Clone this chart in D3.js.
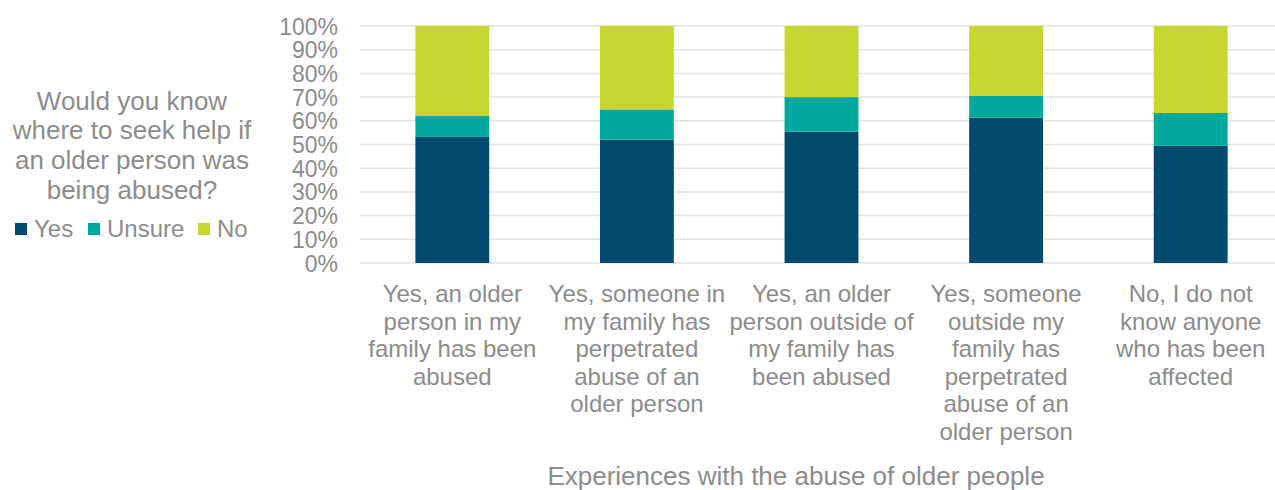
<!DOCTYPE html>
<html>
<head>
<meta charset="utf-8">
<script src="https://cdn.jsdelivr.net/npm/d3@7"></script>
<style>
    body { margin: 0; background: #fff; }
    text { font-family: "Liberation Sans", Arial, sans-serif; fill: #8c8c8c; }
</style>
</head>
<body>
<svg id="chart" width="1275" height="490"></svg>
<script>
// categories (x axis), one label line per entry
var categories = [
    ['Yes, an older', 'person in my', 'family has been', 'abused'],
    ['Yes, someone in', 'my family has', 'perpetrated', 'abuse of an', 'older person'],
    ['Yes, an older', 'person outside of', 'my family has', 'been abused'],
    ['Yes, someone', 'outside my', 'family has', 'perpetrated', 'abuse of an', 'older person'],
    ['No, I do not', 'know anyone', 'who has been', 'affected']
];
var seriesNames = ['Yes', 'Unsure', 'No'];
var yesValues    = [53.2, 52.0, 55.4, 61.3, 49.5];
var unsureValues = [8.8, 12.8, 14.6, 9.2, 13.8];
var noValues     = [38.0, 35.2, 30.0, 29.5, 36.7];
var yTicks = [0, 10, 20, 30, 40, 50, 60, 70, 80, 90, 100];
var legendTitle = ['Would you know', 'where to seek help if', 'an older person was', 'being abused?'];
var axisTitle = 'Experiences with the abuse of older people';

var colors = {Yes: '#004a6e', Unsure: '#00a89d', No: '#c6d82f'};

var svg = d3.select('#chart'),
    plot = {left: 360, right: 1283, top: 26, bottom: 263};

var rows = categories.map(function(c, i) {
    return {idx: i, Yes: yesValues[i], Unsure: unsureValues[i], No: noValues[i]};
});

var x = d3.scaleBand()
    .domain(d3.range(categories.length))
    .range([plot.left, plot.right])
    .paddingInner(0.6).paddingOuter(0.3);

var y = d3.scaleLinear().domain([0, 100]).range([plot.bottom, plot.top]);

// gridlines
svg.append('g').selectAll('line')
    .data(yTicks).enter()
    .append('line')
    .attr('x1', plot.left).attr('x2', plot.right)
    .attr('y1', function(d) { return y(d); })
    .attr('y2', function(d) { return y(d); })
    .attr('stroke', '#e3e3e3')
    .attr('stroke-width', 1.5);

// y axis labels
var yAxis = d3.axisLeft(y).tickValues(yTicks).tickSize(0).tickPadding(0)
    .tickFormat(function(d) { return d + '%'; });
svg.append('g')
    .attr('transform', 'translate(338,0)')
    .call(yAxis)
    .call(function(g) {
        g.attr('font-family', null).attr('font-size', null);
        g.select('.domain').remove();
        g.selectAll('text').attr('font-size', 23).attr('fill', null)
            .attr('dy', '0.35em');
    });

// stacked bars
var stack = d3.stack().keys(seriesNames)(rows);
svg.append('g').selectAll('g')
    .data(stack).enter()
    .append('g')
    .attr('fill', function(d) { return colors[d.key]; })
    .selectAll('rect')
    .data(function(d) { return d; }).enter()
    .append('rect')
    .attr('x', function(d) { return x(d.data.idx); })
    .attr('width', x.bandwidth())
    .attr('y', function(d) { return y(d[1]); })
    .attr('height', function(d) { return y(d[0]) - y(d[1]); });

// x category labels
var lineH = 27.6;
svg.append('g').selectAll('text')
    .data(categories).enter()
    .append('text')
    .attr('text-anchor', 'middle')
    .attr('font-size', 24)
    .attr('transform', function(d, i) {
        return 'translate(' + (x(i) + x.bandwidth() / 2) + ',302)';
    })
    .selectAll('tspan')
    .data(function(d) { return d; }).enter()
    .append('tspan')
    .attr('x', 0)
    .attr('y', function(d, i) { return i * lineH; })
    .text(function(d) { return d; });

// x axis title
svg.append('text')
    .attr('x', 796)
    .attr('y', 485)
    .attr('text-anchor', 'middle')
    .attr('font-size', 26)
    .text(axisTitle);

// legend title
svg.append('text')
    .attr('text-anchor', 'middle')
    .attr('font-size', 26)
    .selectAll('tspan')
    .data(legendTitle).enter()
    .append('tspan')
    .attr('x', 132)
    .attr('y', function(d, i) { return 109.5 + i * 29.7; })
    .text(function(d) { return d; });

// legend entries
var legendX = [15, 88, 198];
var legend = svg.append('g').selectAll('g')
    .data(seriesNames).enter()
    .append('g')
    .attr('transform', function(d, i) { return 'translate(' + legendX[i] + ',223)'; });
legend.append('rect')
    .attr('width', 12).attr('height', 12)
    .attr('fill', function(d) { return colors[d]; });
legend.append('text')
    .attr('x', 19).attr('y', 14)
    .attr('font-size', 24)
    .text(function(d) { return d; });
</script>
</body>
</html>
